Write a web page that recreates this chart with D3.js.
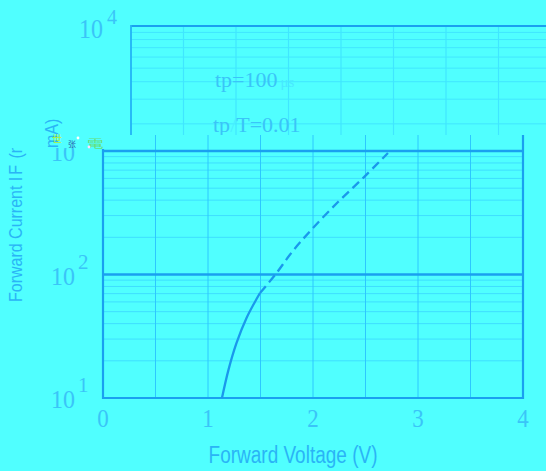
<!DOCTYPE html>
<html><head><meta charset="utf-8">
<script src="https://cdn.jsdelivr.net/npm/d3@7"></script>
<style>html,body{margin:0;padding:0;background:#50ffff;}svg{display:block;}</style>
</head><body>
<svg id="c" width="546" height="471"></svg>
<script>
// ---- data ----
const xTicks = [0, 1, 2, 3, 4];
const xGrid = [0.5, 1, 1.5, 2, 2.5, 3, 3.5];
const yTickExps = [1, 2, 3];
const topTickExps = [4];
const decades = [10, 100, 1000];
const minorMult = [2, 3, 4, 5, 6, 7, 8, 9];
const solidV = [1.133, 1.195, 1.271, 1.367, 1.495];
const solidI = [10, 16.9, 27.8, 44.5, 70.8];
const dashV = [1.495, 1.638, 1.8, 1.99, 2.238, 2.486, 2.714];
const dashI = [70.8, 99, 152, 233, 386, 615, 964];
const xLabel = "Forward Voltage (V)";
const yLabelA = "Forward Current I", yLabelSub = "F", yLabelB = " (mA)", yLabelTop = "mA)";
const note1 = ["tp=100", "\u03bcs"];
const note2 = ["tp", "/", "T=0.01"];

// ---- styles ----
const MAJOR = "#1aa0f0", MINOR = "#3edeff", VGRID = "#2cc8ff",
      FAINT = "#40e6ff", TXT = "#2ab4f6", SERIF = "#3ac4f8", CURVE = "#1a98ec";

const svg = d3.select("#c");
const defs = svg.append("defs");
defs.append("clipPath").attr("id", "clipB").append("path")
  .attr("d", "M0,148 L103,148 L103,135 L546,135 L546,471 L0,471 Z");
defs.append("clipPath").attr("id", "clipT").append("path")
  .attr("d", "M0,0 L546,0 L546,135 L103,135 L103,148 L0,148 Z");

function txt(g, x, y, str, o) {
  const t = g.append("text")
    .attr("transform", `translate(${x},${y}) rotate(${o.rot || 0}) scale(${o.sx || 1},${o.sy || 1})`)
    .attr("font-family", o.family || "Liberation Sans, Arial, sans-serif")
    .attr("font-size", o.size).attr("fill", o.fill || TXT)
    .attr("text-anchor", o.anchor || "start");
  if (str !== null) t.text(str);
  return t;
}
const SERIFF = "Liberation Serif, Times New Roman, serif";

// ================= bottom region =================
const gB = svg.append("g").attr("clip-path", "url(#clipB)");
const x = d3.scaleLinear().domain([0, 4]).range([103, 523]);
const y = d3.scaleLog().domain([10, 10000]).range([398, 27.5]);

const minorVals = decades.flatMap(d => minorMult.map(m => d * m));
gB.selectAll(".hmin").data(minorVals).join("line")
  .attr("x1", x(0)).attr("x2", x(4)).attr("y1", d => y(d)).attr("y2", d => y(d))
  .attr("stroke", MINOR).attr("stroke-width", 1);
gB.selectAll(".vg").data(xGrid).join("line")
  .attr("x1", d => x(d)).attr("x2", d => x(d)).attr("y1", 130).attr("y2", y(10))
  .attr("stroke", VGRID).attr("stroke-width", 1);
gB.selectAll(".hmaj").data([100, 1000]).join("line")
  .attr("x1", x(0)).attr("x2", x(4)).attr("y1", d => y(d)).attr("y2", d => y(d))
  .attr("stroke", MAJOR).attr("stroke-width", 2.4);
gB.append("line").attr("x1", x(0)).attr("x2", x(0)).attr("y1", 149).attr("y2", y(10) + 1)
  .attr("stroke", MAJOR).attr("stroke-width", 2.2);
gB.append("line").attr("x1", x(4)).attr("x2", x(4)).attr("y1", 130).attr("y2", y(10) + 1)
  .attr("stroke", MAJOR).attr("stroke-width", 2.2);
gB.append("line").attr("x1", x(0) - 1).attr("x2", x(4) + 1).attr("y1", y(10)).attr("y2", y(10))
  .attr("stroke", MAJOR).attr("stroke-width", 2.2);

const line = d3.line().x(d => x(d[0])).y(d => y(d[1])).curve(d3.curveCatmullRom.alpha(0.5));
gB.append("path").attr("d", line(d3.zip(solidV, solidI)))
  .attr("fill", "none").attr("stroke", CURVE).attr("stroke-width", 2.3);
gB.append("path").attr("d", line(d3.zip(dashV, dashI)))
  .attr("fill", "none").attr("stroke", CURVE).attr("stroke-width", 2.3)
  .attr("stroke-dasharray", "9,5");

xTicks.forEach(v => txt(gB, x(v), 427, String(v), { size: 23, family: SERIFF, fill: SERIF, anchor: "middle", sy: 1.1 }));
yTickExps.forEach(e => {
  const ty = y(Math.pow(10, e));
  txt(gB, 75, ty + 10, "10", { size: 24, family: SERIFF, fill: SERIF, anchor: "end", sy: 1.05 });
  txt(gB, 78, ty - 6, String(e), { size: 21, family: SERIFF, fill: SERIF });
});
txt(gB, 293, 463, xLabel, { size: 19, fill: TXT, anchor: "middle", sy: 1.25 });
const yl = txt(gB, 22, 302, null, { size: 16, fill: TXT, rot: -90, sy: 1.15 });
yl.append("tspan").text(yLabelA);
yl.append("tspan").attr("dx", 2).text(yLabelSub);
yl.append("tspan").attr("dx", 2).text(yLabelB);

// ================= top region (shifted fragment) =================
const gT = svg.append("g").attr("clip-path", "url(#clipT)");
const xT = d3.scaleLinear().domain([0, 4]).range([131, 551]);
const yT = d3.scaleLog().domain([1000, 10000]).range([166, 26]);
gT.selectAll(".hminT").data(minorMult.map(m => 1000 * m)).join("line")
  .attr("x1", xT(0)).attr("x2", 546).attr("y1", d => yT(d)).attr("y2", d => yT(d))
  .attr("stroke", FAINT).attr("stroke-width", 1);
gT.selectAll(".vgT").data(xGrid).join("line")
  .attr("x1", d => xT(d)).attr("x2", d => xT(d)).attr("y1", yT(10000)).attr("y2", 140)
  .attr("stroke", FAINT).attr("stroke-width", 1.2);
gT.append("line").attr("x1", xT(0)).attr("x2", 546).attr("y1", yT(10000)).attr("y2", yT(10000))
  .attr("stroke", MAJOR).attr("stroke-width", 2.2);
gT.append("line").attr("x1", xT(0)).attr("x2", xT(0)).attr("y1", yT(10000) - 1).attr("y2", 140)
  .attr("stroke", "#22b4f6").attr("stroke-width", 1.8);
topTickExps.forEach(e => {
  const ty = yT(Math.pow(10, e));
  txt(gT, 103, ty + 12, "10", { size: 24, family: SERIFF, fill: SERIF, anchor: "end", sy: 1.12 });
  txt(gT, 107, ty - 2, String(e), { size: 20, family: SERIFF, fill: SERIF, sy: 1.1 });
});
const n1 = txt(gT, 215, 87, null, { size: 22, family: SERIFF, fill: SERIF });
n1.append("tspan").text(note1[0]);
n1.append("tspan").attr("font-size", 15).attr("dx", 3).attr("fill", "#48e8ff").text(note1[1]);
const n2 = txt(gT, 213, 132, null, { size: 22, family: SERIFF, fill: SERIF });
n2.append("tspan").text(note2[0]);
n2.append("tspan").attr("fill", "#48eeff").text(note2[1]);
n2.append("tspan").text(note2[2]);
txt(gT, 58, 148, yLabelTop, { size: 16, fill: TXT, rot: -90, sy: 1.15 });

// glitch artefacts near the y-axis label
txt(svg, 52, 143, "\u4e16", { size: 10, family: "Noto Sans CJK SC", fill: "#b4ee36" });
txt(svg, 68, 147, "\u5f20", { size: 8, family: "Noto Sans CJK SC", fill: "#2a5caa" });
svg.append("circle").attr("cx", 78).attr("cy", 138).attr("r", 1.4).attr("fill", "#ffffff");
txt(svg, 87, 148, "\u96fb", { size: 11, family: "Noto Sans CJK SC", fill: "#66e07a", sx: 1.5 });
svg.append("circle").attr("cx", 89).attr("cy", 147).attr("r", 1.4).attr("fill", "#ffe0ff");
</script>
</body></html>
